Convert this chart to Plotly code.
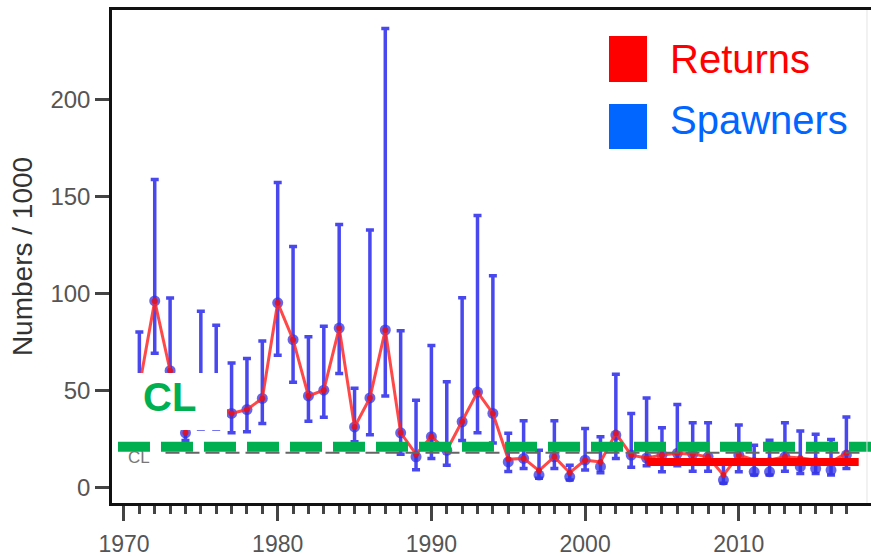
import plotly.graph_objects as go

# Survey years
years = list(range(1971, 2018))

# Spawner estimates (thousands) with lower / upper interval bounds
spawners = [52, 96, 60, 28, 45, 43, 38, 40, 45.7, 95,
            76, 47, 50, 82, 31, 46, 81, 28, 15.6, 26,
            19, 33.7, 49, 38, 13, 14.8, 6.2, 15.6, 5.3, 13.9,
            10.5, 26.8, 16.5, 15, 16.5, 17.4, 17, 15.6, 3.6, 16.5,
            7.9, 7.9, 15.6, 10.5, 9.6, 8.8, 16.5]
spawners_low = [35, 69, 40, 24, 30, 30, 28, 28.5, 32.8, 68,
                54, 34, 36, 58.6, 23.4, 27, 47, 17, 9, 14.8,
                11.3, 24, 28, 22.8, 8, 9.6, 4.6, 9.6, 3.6, 8.8,
                7.4, 14.8, 10.2, 11, 7.9, 11, 8.2, 8.2, 2, 7.9,
                6.2, 6.2, 8.2, 7, 7, 6.2, 9.6]
spawners_high = [80, 158.6, 97.5, 45, 90.7, 83.5, 64, 66.3, 75.3, 157,
                 124, 77.5, 83, 135.4, 51, 132.5, 236.4, 80.6, 44.8, 73,
                 54.3, 97.6, 140, 109, 27.7, 34.2, 19, 34.2, 11.3, 30.2,
                 26, 58.2, 38, 46, 30.6, 42.6, 33.2, 33.2, 12, 32,
                 21.6, 24.2, 33.2, 28.9, 27.2, 24.6, 36.2]

# Return estimates (thousands)
returns = [52, 96, 60, 28, 45, 43, 38, 40, 45.7, 95,
           76, 47, 50, 82, 31, 46, 81, 28, 17, 26,
           19, 33.7, 49, 38, 14.4, 14.8, 8.5, 15.6, 7.4, 13.9,
           13, 27.7, 16.5, 15, 16.5, 17.4, 17, 15.6, 6.2, 16.5,
           14, 14, 15.6, 15, 14, 13, 17.5]

# Reference levels
cl_level = 20.8          # conservation limit
cl_old_level = 17.7      # earlier limit
recent_mean = 12.9       # recent average returns
recent_years = [2004, 2017.8]

err_plus = [h - v for h, v in zip(spawners_high, spawners)]
err_minus = [v - l for v, l in zip(spawners, spawners_low)]

fig = go.Figure()

fig.add_trace(go.Scatter(
    x=years, y=spawners, mode="markers",
    marker=dict(size=11, color="rgba(50,50,230,0.75)", line=dict(width=0)),
    error_y=dict(type="data", symmetric=False, array=err_plus, arrayminus=err_minus,
                 color="rgba(40,40,235,0.85)", thickness=3.5, width=4),
    showlegend=False, hoverinfo="skip"))

fig.add_trace(go.Scatter(
    x=years, y=returns, mode="lines+markers",
    line=dict(color="rgba(255,40,40,0.85)", width=3),
    marker=dict(size=6, color="rgba(220,20,40,0.9)"),
    showlegend=False, hoverinfo="skip"))

shapes = [
    # earlier limit (thin grey dashes)
    dict(type="line", xref="x", yref="y", x0=1972.7, x1=2018.2, y0=cl_old_level, y1=cl_old_level,
         line=dict(color="#666666", width=2, dash="14px,6px"), layer="above"),
    # conservation limit (thick green dashes)
    dict(type="line", xref="x", yref="y", x0=1969.61, x1=2018.6, y0=cl_level, y1=cl_level,
         line=dict(color="#00B050", width=10, dash="32px,11px"), layer="above"),
    # recent average returns
    dict(type="line", xref="x", yref="y", x0=recent_years[0], x1=recent_years[1],
         y0=recent_mean, y1=recent_mean,
         line=dict(color="#FF0000", width=8), layer="above"),
    # white label box
    dict(type="rect", xref="paper", yref="paper", x0=0.0184, x1=0.1515, y0=0.1481, y1=0.2637,
         fillcolor="white", line=dict(width=0), layer="above"),
    # legend swatches
    dict(type="rect", xref="paper", yref="paper", x0=0.6548, x1=0.7049, y0=0.854, y1=0.9473,
         fillcolor="#FF0000", line=dict(width=0), layer="above"),
    dict(type="rect", xref="paper", yref="paper", x0=0.6548, x1=0.7049, y0=0.7181, y1=0.8093,
         fillcolor="#0066FF", line=dict(width=0), layer="above"),
    # right frame edge
    dict(type="line", xref="paper", yref="paper", x0=0.9947, x1=0.9947, y0=0, y1=1,
         line=dict(color="#e4e4e4", width=1), layer="above"),
]

annotations = [
    dict(text="CL", xref="x", yref="y", x=1970.97, y=15.5, showarrow=False,
         font=dict(family="Liberation Sans, Arial", size=17, color="#777777")),
    dict(text="<b>CL</b>", xref="paper", yref="paper", x=0.0764, y=0.215, showarrow=False,
         xanchor="center", yanchor="middle",
         font=dict(family="Liberation Sans, Arial", size=40, color="#00B050")),
    dict(text="Returns", xref="paper", yref="paper", x=0.7325, y=0.9, showarrow=False,
         xanchor="left", yanchor="middle",
         font=dict(family="Liberation Sans, Arial", size=40, color="#FF0000")),
    dict(text="Spawners", xref="paper", yref="paper", x=0.7325, y=0.776, showarrow=False,
         xanchor="left", yanchor="middle",
         font=dict(family="Liberation Sans, Arial", size=40, color="#0066FF")),
]

decades = [1970, 1980, 1990, 2000, 2010]
minor_years = [y for y in years if y % 10 != 0]

fig.update_layout(
    width=871, height=556,
    margin=dict(l=112, r=0, t=10, b=53),
    paper_bgcolor="white", plot_bgcolor="white",
    font=dict(family="Liberation Sans, Arial", color="#444444"),
    shapes=shapes, annotations=annotations,
    xaxis=dict(range=[1969.22, 2018.6], tickmode="array", tickvals=decades,
               ticktext=[str(d) for d in decades],
               ticks="outside", ticklen=15, tickwidth=2.5, tickcolor="#444444",
               tickfont=dict(size=23, color="#555555"), ticklabelstandoff=4,
               showline=True, linecolor="#111111", linewidth=2.5, mirror=True,
               showgrid=False, zeroline=False,
               minor=dict(tickmode="array", tickvals=minor_years, ticks="outside",
                          ticklen=8, tickwidth=2.5, tickcolor="#444444", showgrid=False)),
    yaxis=dict(range=[-8.2, 246], tickmode="array", tickvals=[0, 50, 100, 150, 200],
               ticks="outside", ticklen=14, tickwidth=2.5, tickcolor="#444444",
               tickfont=dict(size=24, color="#555555"),
               showline=True, linecolor="#111111", linewidth=2.5,
               showgrid=False, zeroline=False,
               title=dict(text="Numbers / 1000", font=dict(size=28, color="#333333"),
                          standoff=10)),
)

fig.write_html("out.html")
